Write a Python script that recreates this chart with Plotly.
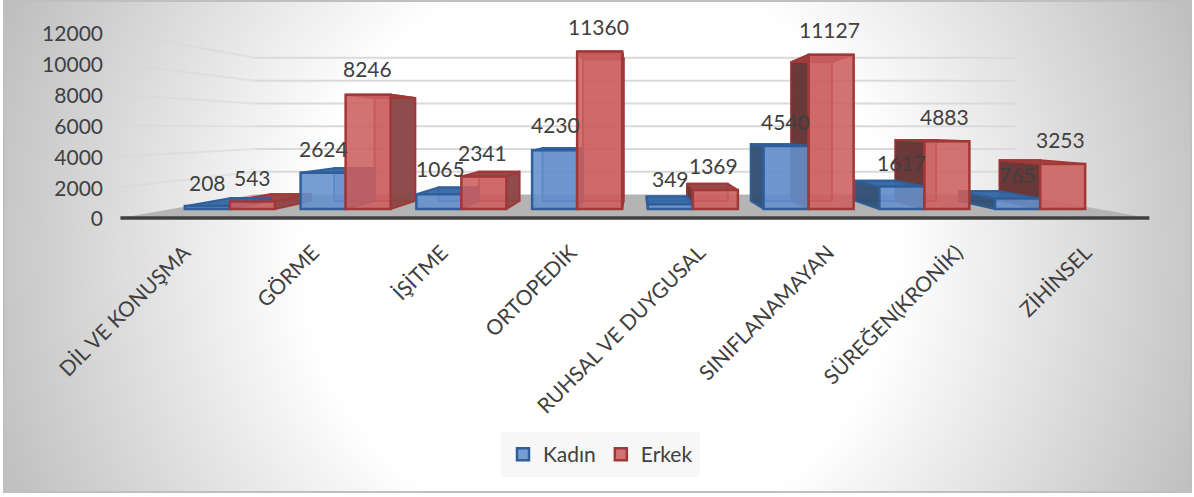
import plotly.graph_objects as go

categories = ["DİL VE KONUŞMA", "GÖRME", "İŞİTME", "ORTOPEDİK", "RUHSAL VE DUYGUSAL",
              "SINIFLANAMAYAN", "SÜREĞEN(KRONİK)", "ZİHİNSEL"]
kadin = [208, 2624, 1065, 4230, 349, 4540, 1617, 765]
erkek = [543, 8246, 2341, 11360, 1369, 11127, 4883, 3253]
y_ticks = [0, 2000, 4000, 6000, 8000, 10000, 12000]

# hand-placed label centres (page pixels), as in the reference
kadin_label_px = [(207, 182), (323, 148), (440, 168), (555, 124), (670, 178), (785, 121), (901, 162), (1017, 174)]
erkek_label_px = [(252, 177), (367, 68), (482, 152), (598, 26), (713, 165), (829, 29), (944, 116), (1060, 139)]

W, H = 1194, 497
FONT = "Lato"
TXT = "#404040"

# front bar plane -> page scale
PX_PER_CAT = 115.75
PX_X0 = 172.0          # page x of category edge -0.5
PX_Y0 = 209.0          # page y of value 0 on the bar plane
PX_PER_VAL = 0.01386

def to_x(px):
    return (px - PX_X0) / PX_PER_CAT - 0.5

def to_y(py):
    return (PX_Y0 - py) / PX_PER_VAL

VX, VY = to_x(636), to_y(128)   # vanishing point
BAR_W = 0.389
K_BAR_BACK = 0.90
K_FLOOR_FRONT = 1 / 0.9
K_FLOOR_BACK = 0.74 / 0.9

def proj(x, v, k):
    return VX + k * (x - VX), VY + k * (v - VY)

def poly(points):
    xs = [p[0] for p in points] + [points[0][0], None]
    ys = [p[1] for p in points] + [points[0][1], None]
    return xs, ys

def add_poly(fig, xs, ys, fill, line, width=1.5):
    fig.add_trace(go.Scatter(x=xs, y=ys, mode="lines", fill="toself", fillcolor=fill,
                             line=dict(color=line, width=width), showlegend=False,
                             hoverinfo="skip", xaxis="x2", yaxis="y2"))

def bar_faces(values, offset):
    side_r, side_l, top, back = ([], []), ([], []), ([], []), ([], [])
    for i, v in enumerate(values):
        x0, x1 = i + offset - BAR_W / 2, i + offset + BAR_W / 2
        p = poly([proj(x0, v, 1), proj(x1, v, 1), proj(x1, v, K_BAR_BACK), proj(x0, v, K_BAR_BACK)])
        top[0].extend(p[0]); top[1].extend(p[1])
        p = poly([proj(x0, 0, K_BAR_BACK), proj(x1, 0, K_BAR_BACK), proj(x1, v, K_BAR_BACK), proj(x0, v, K_BAR_BACK)])
        back[0].extend(p[0]); back[1].extend(p[1])
        if x1 < VX:
            p = poly([proj(x1, 0, 1), proj(x1, v, 1), proj(x1, v, K_BAR_BACK), proj(x1, 0, K_BAR_BACK)])
            side_r[0].extend(p[0]); side_r[1].extend(p[1])
        elif x0 > VX:
            p = poly([proj(x0, 0, 1), proj(x0, v, 1), proj(x0, v, K_BAR_BACK), proj(x0, 0, K_BAR_BACK)])
            side_l[0].extend(p[0]); side_l[1].extend(p[1])
    return side_r, side_l, top, back

fig = go.Figure()

# main subplot: carries the two visible axes
fig.add_trace(go.Scatter(x=categories, y=[None] * len(categories), mode="markers",
                         showlegend=False, hoverinfo="skip"))

# floor
xs, ys = poly([proj(-0.5, 0, K_FLOOR_FRONT), proj(7.5, 0, K_FLOOR_FRONT),
               proj(7.5, 0, K_FLOOR_BACK), proj(-0.5, 0, K_FLOOR_BACK)])
add_poly(fig, xs, ys, "#b4b4b4", "rgba(0,0,0,0)", 0)

# gridlines on the left wall and the back wall
for t in y_ticks[1:]:
    a = proj(-0.5, t, K_FLOOR_FRONT); b = proj(-0.5, t, K_FLOOR_BACK); c = proj(7.5, t, K_FLOOR_BACK)
    fig.add_trace(go.Scatter(x=[a[0], b[0]], y=[a[1], b[1]], mode="lines",
                             line=dict(color="rgba(215,215,215,0.55)", width=2),
                             showlegend=False, hoverinfo="skip", xaxis="x2", yaxis="y2"))
    fig.add_trace(go.Scatter(x=[b[0], c[0]], y=[b[1], c[1]], mode="lines",
                             line=dict(color="#dadada", width=2),
                             showlegend=False, hoverinfo="skip", xaxis="x2", yaxis="y2"))

# front axis line
a = proj(-0.5, 0, K_FLOOR_FRONT); b = proj(7.5, 0, K_FLOOR_FRONT)
fig.add_trace(go.Scatter(x=[a[0], b[0]], y=[a[1], b[1]], mode="lines",
                         line=dict(color="#404040", width=3.5),
                         showlegend=False, hoverinfo="skip", xaxis="x2", yaxis="y2"))

# 3D faces: red first, then blue
for values, off, col in [(erkek, BAR_W / 2, "r"), (kadin, -BAR_W / 2, "b")]:
    sr, sl, tp, bk = bar_faces(values, off)
    if col == "r":
        add_poly(fig, bk[0], bk[1], "rgba(150,60,60,0.35)", "#a03838", 2)
        add_poly(fig, sr[0], sr[1], "rgba(140,70,70,0.95)", "#a03838", 2)
        add_poly(fig, sl[0], sl[1], "rgba(100,50,50,0.95)", "#943030", 2)
        add_poly(fig, tp[0], tp[1], "rgba(150,65,65,0.95)", "#a03838", 2)
    else:
        add_poly(fig, bk[0], bk[1], "rgba(50,95,150,0.35)", "#2f5f9a", 2)
        add_poly(fig, sr[0], sr[1], "rgba(55,95,145,0.95)", "#2f5f9a", 2)
        add_poly(fig, sl[0], sl[1], "rgba(50,80,115,0.95)", "#2f5f9a", 2)
        add_poly(fig, tp[0], tp[1], "rgba(55,105,165,0.95)", "#2f5f9a", 2)

# front faces: real bars on the upper overlay
idx = list(range(len(categories)))
fig.add_trace(go.Bar(name="Kadın", x=idx, y=kadin, xaxis="x3", yaxis="y3",
                     marker=dict(color="rgba(100,145,205,0.88)", line=dict(color="#2f5f9a", width=2.5)),
                     hoverinfo="skip"))
fig.add_trace(go.Bar(name="Erkek", x=idx, y=erkek, xaxis="x3", yaxis="y3",
                     marker=dict(color="rgba(205,95,95,0.88)", line=dict(color="#a03838", width=2.5)),
                     hoverinfo="skip"))

annotations = []
for vals, pos in [(kadin, kadin_label_px), (erkek, erkek_label_px)]:
    for v, (px, py) in zip(vals, pos):
        annotations.append(dict(x=to_x(px), y=to_y(py), xref="x3", yref="y3", text=str(v),
                                showarrow=False, font=dict(family=FONT, size=21, color=TXT),
                                xanchor="center", yanchor="middle"))

x_range_bar = [to_x(0), to_x(W)]
y_range_bar = [to_y(H), to_y(0)]
hidden = dict(visible=False, showgrid=False, zeroline=False, fixedrange=True)

# visible axes: category labels along the front floor edge, values along the left wall
cat_px = 128.75
fig.update_layout(
    width=W, height=H, margin=dict(l=0, r=0, t=0, b=0), autosize=False,
    paper_bgcolor="rgba(0,0,0,0)", plot_bgcolor="rgba(0,0,0,0)",
    barmode="group", bargap=1 - 2 * BAR_W, bargroupgap=0,
    font=dict(family=FONT, color=TXT),
    xaxis=dict(type="category", categoryorder="array", categoryarray=categories,
               tickmode="array", tickvals=categories, ticktext=categories,
               range=[-0.5 - 120 / cat_px, -0.5 + (W - 120) / cat_px], domain=[0, 1],
               anchor="free", position=(H - 218) / H, tickangle=-45,
               showgrid=False, zeroline=False, showline=False, ticks="outside",
               ticklen=13, tickcolor="rgba(0,0,0,0)",
               tickfont=dict(family=FONT, size=21, color=TXT)),
    yaxis=dict(range=[-(H - 219) / 30.83 * 2000, 219 / 30.83 * 2000], domain=[0, 1],
               tickmode="array", tickvals=y_ticks, ticktext=[str(t) for t in y_ticks],
               anchor="free", position=103 / W, showgrid=False, zeroline=False, showline=False,
               ticks="", tickfont=dict(family=FONT, size=21, color=TXT)),
    xaxis2=dict(overlaying="x", range=x_range_bar, anchor="y2", **hidden),
    yaxis2=dict(overlaying="y", range=y_range_bar, anchor="x2", **hidden),
    xaxis3=dict(overlaying="x", range=x_range_bar, anchor="y3", **hidden),
    yaxis3=dict(overlaying="y", range=y_range_bar, anchor="x3", **hidden),
    legend=dict(orientation="h", x=501 / W, y=1 - 432 / H, xanchor="left", yanchor="top",
                bgcolor="#f7f7f7", bordercolor="#f7f7f7", borderwidth=2,
                font=dict(family=FONT, size=21, color=TXT),
                itemwidth=30, traceorder="normal"),
    annotations=annotations,
    shapes=[dict(type="rect", xref="paper", yref="paper", x0=4 / W, x1=1191 / W, y0=1 - 492 / H, y1=1 - 1 / H,
                 line=dict(color="#bfbfbf", width=2), layer="below")],
    showlegend=True,
)

post = """
document.documentElement.style.margin='0';
document.body.style.margin='0';
document.body.style.overflow='hidden';
document.body.style.background='radial-gradient(657px 636px at 596px 254px, #ffffff 0%, #ffffff 45%, #bcbcbc 100%) no-repeat 4px 1px / 1187px 491px, #ffffff';
"""
fig.write_html("out.html", post_script=post, config=dict(displayModeBar=False))
